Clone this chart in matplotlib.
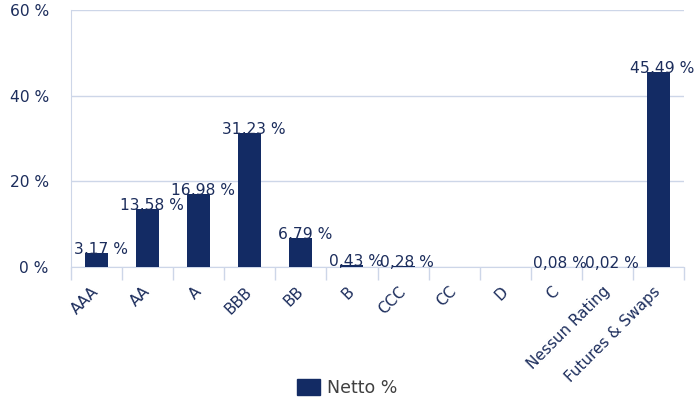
import matplotlib
matplotlib.use("Agg")
import matplotlib.pyplot as plt
from matplotlib.patches import Patch
import numpy as np

categories = ["AAA", "AA", "A", "BBB", "BB", "B", "CCC", "CC", "D", "C", "Nessun Rating", "Futures & Swaps"]
values = [3.17, 13.58, 16.98, 31.23, 6.79, 0.43, 0.28, 0.0, 0.0, 0.08, 0.02, 45.49]
labels = ["3,17 %", "13,58 %", "16,98 %", "31,23 %", "6,79 %", "0,43 %", "0,28 %", None, None, "0,08 %", "0,02 %", "45,49 %"]
yticks = [0, 20, 40, 60]

bar_color = "#132b64"
text_color = "#1c2d5c"
grid_color = "#cdd6e8"

plt.rcParams["font.family"] = ["DejaVu Sans"]
fig = plt.figure(figsize=(6.94, 4.01), dpi=100)
ax = fig.add_axes([71/694, 1 - 267/401, (684-71)/694, (267-10)/401])

x = np.arange(len(categories))
ax.bar(x, values, width=0.45, color=bar_color, zorder=3)
for xi, v, lab in zip(x, values, labels):
    if lab:
        ax.text(xi + 0.08, v + 0.8, lab, ha="center", va="center", fontsize=11.2, color=text_color, zorder=4)

ax.set_xlim(-0.5, len(categories) - 0.5)
ax.set_ylim(0, 60)
ax.set_yticks(yticks)
ax.set_yticklabels([f"{t} %" for t in yticks], fontsize=11.2, color=text_color)
ax.yaxis.grid(True, color=grid_color, linewidth=1)
ax.set_axisbelow(True)
ax.tick_params(axis="y", length=0, pad=16)

ax.set_xticks(x)
ax.set_xticklabels(categories, rotation=45, ha="right", va="center", rotation_mode="anchor", fontsize=11, color=text_color)
ax.tick_params(axis="x", length=0, pad=16)
ax.set_xticks(np.arange(-0.5, len(categories)), minor=True)
ax.tick_params(axis="x", which="minor", length=9.5, color=grid_color, width=1)

for s in ["top", "right"]:
    ax.spines[s].set_visible(False)
ax.spines["left"].set_color(grid_color)
ax.spines["bottom"].set_color(grid_color)

fig.legend(handles=[Patch(color=bar_color, label="Netto %")], loc="center", bbox_to_anchor=(347/694, 1 - 388/401),
           frameon=False, fontsize=12.5, labelcolor="#404040", handlelength=1.35, handleheight=1.0, handletextpad=0.35)

fig.savefig("out.png", dpi=100)
